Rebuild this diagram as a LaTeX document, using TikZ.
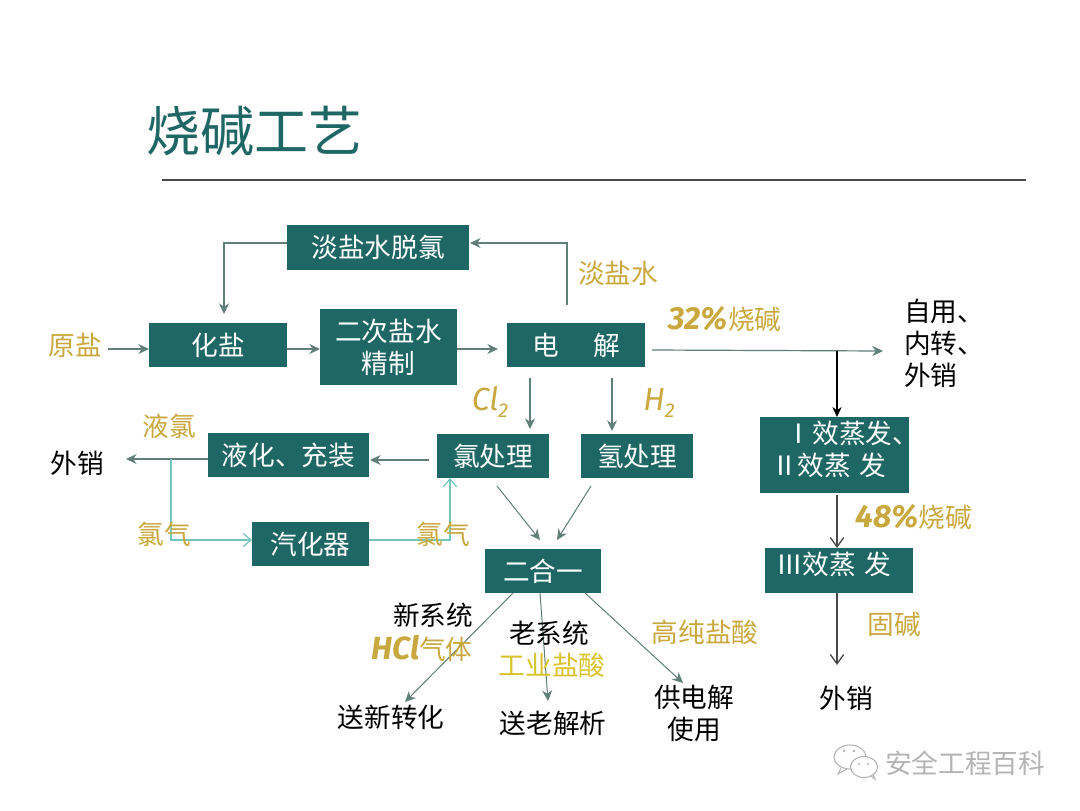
\documentclass[tikz,border=0pt]{standalone}
\usepackage{fontspec}
\setmainfont{Noto Sans CJK SC}
\newfontfamily\hand[ItalicFont=* Italic]{Fira Sans}
\usetikzlibrary{arrows.meta}
\definecolor{boxteal}{HTML}{1F6764}
\definecolor{gold}{HTML}{C9A93F}
\definecolor{cline}{HTML}{5F7F78}
\definecolor{aqua}{HTML}{74C6BC}
\definecolor{darkg}{HTML}{4A4A4A}
\definecolor{wmgray}{HTML}{B4B4B4}
\tikzset{
  tbox/.style 2 args={fill=boxteal,text=white,inner sep=0pt,minimum width=#1*0.75pt,minimum height=#2*0.75pt,font=\fontsize{20pt}{24pt}\selectfont,align=center},
  goldt/.style={text=gold,inner sep=0pt,font=\fontsize{20pt}{24pt}\selectfont},
  blackt/.style={text=black,inner sep=0pt,font=\fontsize{20pt}{24pt}\selectfont,align=center},
  flow/.style={draw=cline,line width=0.9pt,-{Stealth[length=8pt,width=7.5pt]}},
  aquaflow/.style={draw=aqua,line width=0.9pt,-{Straight Barb[length=6pt,width=10pt]}},
  blackflow/.style={draw=black,line width=0.85pt,-{Stealth[length=7.5pt,width=7pt]}},
  openflow/.style={draw=darkg,line width=1pt,-{Straight Barb[length=7pt,width=10pt]}},
}
\begin{document}
\begin{tikzpicture}[x=0.75pt,y=-0.75pt]
\useasboundingbox (0,0) rectangle (1080,810);
\fill[white] (0,0) rectangle (1080,810);
% title
\node[text=boxteal,inner sep=0pt,font=\fontsize{40.5pt}{44pt}\selectfont] (title) at (254,131) {烧碱工艺};
\coordinate (ruleL) at (162,180);
\coordinate (ruleR) at (1026,180);
\draw[draw=darkg,line width=0.9pt] (ruleL) -- (ruleR);
% boxes
\node[tbox={182}{45}] (tuo) at (378,247.5) {淡盐水脱氯};
\node[tbox={138}{44}] (hua) at (218,345) {化盐};
\node[tbox={137}{76}] (jing) at (388.5,347) {二次盐水\\精制};
\node[tbox={138}{44}] (dian) at (576,345) {电\hspace{1.3em}解};
\node[tbox={112}{44}] (lv) at (493,456) {氯处理};
\node[tbox={112}{44}] (qing) at (637,456) {氢处理};
\node[tbox={161}{44}] (ye) at (288.5,455) {液化、充装};
\node[tbox={117}{44}] (qi) at (310.5,544) {汽化器};
\node[tbox={116}{44}] (erhe) at (543,571) {二合一};
\node[tbox={149}{76}] (xiao) at (834.5,455) {};
\node[text=white,inner sep=0pt,font=\fontsize{20pt}{24pt}\selectfont,align=left,anchor=west] (xiaot) at (771,449) {\hspace*{0.55em}Ⅰ效蒸发、\\Ⅱ效蒸\hspace{0.3em}发};
\node[tbox={148}{45}] (san) at (839,570.5) {};
\node[text=white,inner sep=0pt,font=\fontsize{20pt}{24pt}\selectfont,anchor=west] (sant) at (776,564) {Ⅲ效蒸\hspace{0.3em}发};
% free ends
\coordinate (yuanE) at (108,349);
\coordinate (jingA) at (498,349);
\coordinate (dA) at (567,305);
\coordinate (dB) at (567,243);
\coordinate (tB) at (224,243);
\coordinate (tC) at (224,314);
\coordinate (cl1) at (530,378);
\coordinate (cl2) at (530,429);
\coordinate (h1) at (612,378);
\coordinate (h2) at (612,431);
\coordinate (n1) at (652,350);
\coordinate (n2) at (883,351);
\coordinate (nb) at (837,350.5);
\coordinate (lv1) at (429,460);
\coordinate (lv2) at (370,460);
\coordinate (wx) at (126,459);
\coordinate (ab) at (171,459);
\coordinate (ac) at (171,540);
\coordinate (ad) at (252,540);
\coordinate (ae) at (369,540);
\coordinate (af) at (450,540);
\coordinate (ag) at (450,478);
\coordinate (m1) at (497,486);
\coordinate (m2) at (540,540);
\coordinate (m3) at (591,486);
\coordinate (m4) at (557,540);
\coordinate (o1) at (513,593);
\coordinate (o2) at (405,702);
\coordinate (o3) at (540,593);
\coordinate (o4) at (548,701);
\coordinate (o5) at (585,593);
\coordinate (o6) at (683,683);
\coordinate (e1) at (837,495);
\coordinate (e2) at (837,548);
\coordinate (e3) at (837,593);
\coordinate (e4) at (837,665);
\coordinate (hE) at (287,349);
\coordinate (jW) at (320,349);
\coordinate (hW) at (149,349);
\coordinate (tE) at (470,243);
\coordinate (tW) at (287,243);
\coordinate (jE) at (457,349);
\coordinate (yW) at (208,459);
\coordinate (xN) at (837,417);
% connectors
\draw[flow] (dA) -- (dB) -- (tE);
\draw[flow] (tW) -- (tB) -- (tC);
\draw[flow] (yuanE) -- (hW);
\draw[flow] (hE) -- (jW);
\draw[flow] (jE) -- (jingA);
\draw[flow] (cl1) -- (cl2);
\draw[flow] (h1) -- (h2);
\draw[flow] (n1) -- (n2);
\draw[blackflow] (nb) -- (xN);
\draw[flow] (lv1) -- (lv2);
\draw[flow] (yW) -- (wx);
\draw[aquaflow] (ab) -- (ac) -- (ad);
\draw[aquaflow] (ae) -- (af) -- (ag);
\draw[flow,line width=0.75pt] (m1) -- (m2);
\draw[flow,line width=0.75pt] (m3) -- (m4);
\draw[flow,line width=0.75pt] (o1) -- (o2);
\draw[flow,line width=0.75pt] (o3) -- (o4);
\draw[flow,line width=0.75pt] (o5) -- (o6);
\draw[openflow] (e1) -- (e2);
\draw[openflow] (e3) -- (e4);
% gold labels
\node[goldt] (l1) at (75,345) {原盐};
\node[goldt] (l2) at (618,273) {淡盐水};
\node[goldt] (l3) at (725,319) {{\hand\fontsize{24pt}{24pt}\selectfont\bfseries\itshape 32\%}烧碱};
\node[goldt] (l4) at (490,402) {{\hand\fontsize{24pt}{24pt}\selectfont\itshape Cl\raisebox{-0.2em}{\fontsize{15pt}{15pt}\selectfont 2}}};
\node[goldt] (l5) at (659,403) {{\hand\fontsize{24pt}{24pt}\selectfont\itshape H\raisebox{-0.2em}{\fontsize{15pt}{15pt}\selectfont 2}}};
\node[goldt] (l6) at (169,426) {液氯};
\node[goldt] (l7) at (164,534) {氯气};
\node[goldt] (l8) at (443,534) {氯气};
\node[goldt] (l9) at (914,517) {{\hand\fontsize{24pt}{24pt}\selectfont\bfseries\itshape 48\%}烧碱};
\node[goldt] (l10) at (894,624) {固碱};
\node[goldt] (l11) at (422,648) {{\hand\fontsize{24pt}{24pt}\selectfont\bfseries\itshape HCl}气体};
\node[goldt,text=gold!70!yellow] (l12) at (552,665) {工业盐酸};
\node[goldt] (l13) at (705,632) {高纯盐酸};
% black labels
\node[blackt] (b1) at (77,463) {外销};
\node[blackt,align=left,anchor=west] (b2) at (904,343) {自用、\\内转、\\外销};
\node[blackt] (b3) at (846,698) {外销};
\node[blackt] (b4) at (433,615) {新系统};
\node[blackt] (b5) at (549,633) {老系统};
\node[blackt] (b6) at (391,717) {送新转化};
\node[blackt] (b7) at (553,723) {送老解析};
\node[blackt] (b8) at (694,713) {供电解\\使用};
% watermark
\begin{scope}[draw=wmgray,line width=0.8pt]
  \draw[fill=white] (850,757) ellipse (16 and 12);
  \draw (841,768) -- (838,774) -- (847,769);
  \draw[fill=white] (864,767) ellipse (13.5 and 10.5);
  \draw (871,776) -- (875,779) -- (873,774);
\end{scope}
\fill[fill=wmgray] (844,751) circle (1.3) (854,751) circle (1.3) (859,764) circle (1.2) (868,764) circle (1.2);
\node[text=wmgray,inner sep=0pt,font=\fontsize{20pt}{22pt}\selectfont] (wm) at (965,763) {安全工程百科};
\end{tikzpicture}
\end{document}
